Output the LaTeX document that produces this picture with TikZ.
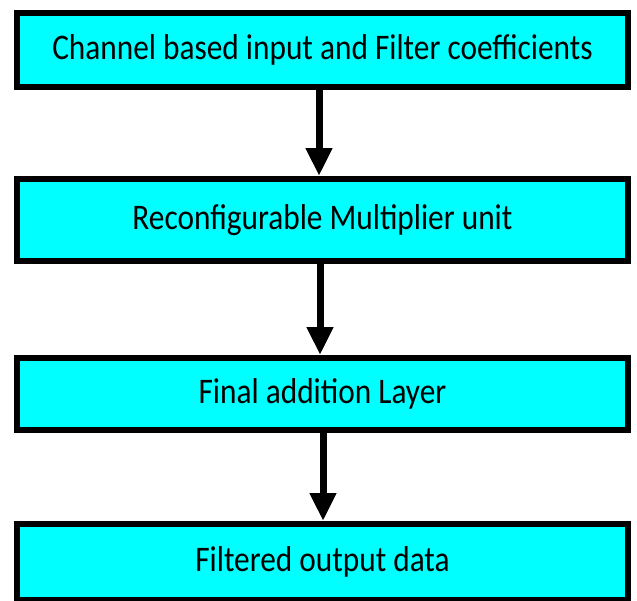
\documentclass[tikz,border=0pt]{standalone}
\usepackage{fontspec}
\setmainfont{Carlito}[FakeStretch=0.87]
\usetikzlibrary{arrows.meta}
\definecolor{boxcyan}{HTML}{00FFFF}
\begin{document}
\begin{tikzpicture}[x=1pt,y=1pt,
  stagebox/.style={draw=black, fill=boxcyan, line width=6pt, rectangle,
    minimum width=611pt, inner sep=0pt, font=\fontsize{36}{40}\selectfont},
  flow/.style={line width=7pt, -{Triangle[width=25pt,length=28pt]}}]
\useasboundingbox (0,0) rectangle (637,-600);
\node[stagebox, minimum height=74pt] (inp) at (322.5,-50) {Channel based input and Filter coefficients};
\node[stagebox, minimum height=82pt] (mul) at (322.5,-220) {Reconfigurable Multiplier unit};
\node[stagebox, minimum height=72pt] (add) at (322.5,-394) {Final addition Layer};
\node[stagebox, minimum height=76pt] (out) at (322.5,-562) {Filtered output data};
\draw[flow] ([xshift=-3.5pt]inp.south) -- ([xshift=-3.5pt]mul.north);
\draw[flow] ([xshift=-2.5pt]mul.south) -- ([xshift=-2.5pt]add.north);
\draw[flow] ([xshift=0.5pt]add.south) -- ([xshift=0.5pt]out.north);
\end{tikzpicture}
\end{document}
